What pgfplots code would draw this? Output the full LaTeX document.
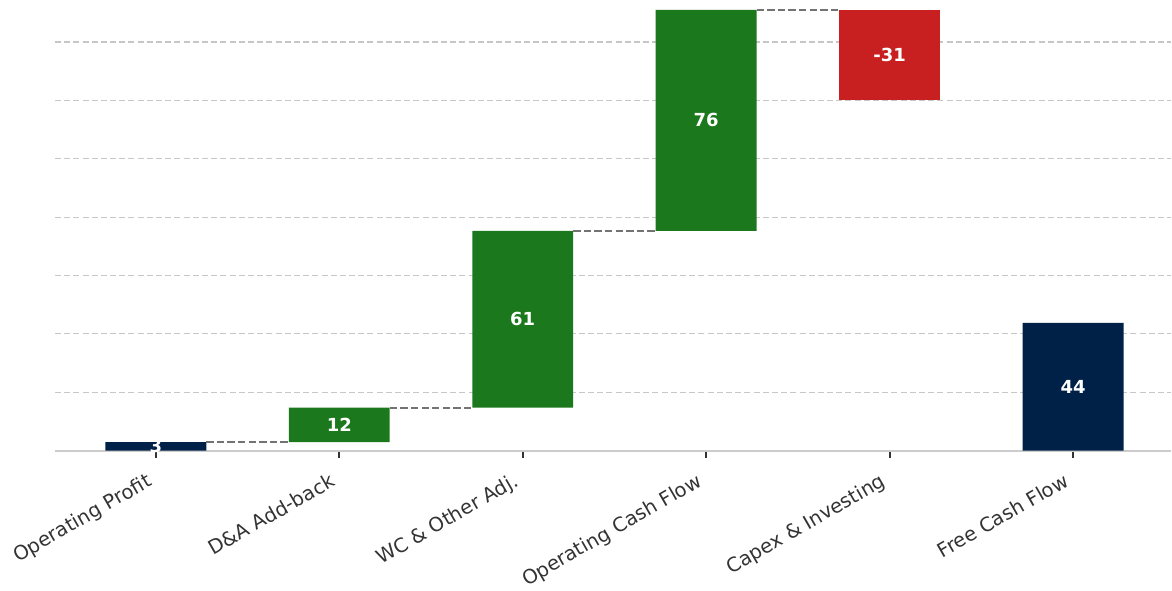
\documentclass[border=0pt]{standalone}
\usepackage{pgfplots}
\pgfplotsset{compat=1.18}
\usepackage{fontspec}
\setmainfont{DejaVu Sans}
\definecolor{navy}{RGB}{0,33,71}
\definecolor{grn}{RGB}{28,120,28}
\definecolor{rd}{RGB}{200,32,32}
\definecolor{txt}{RGB}{51,51,51}
\begin{document}
\begin{tikzpicture}
\begin{axis}[
  name=main,
  scale only axis,
  width=558.5pt, height=225.5pt,
  xmin=-0.55, xmax=5.534,
  ymin=0, ymax=154.4,
  ybar stacked,
  bar width=0.55,
  axis x line*=bottom,
  axis y line*=left,
  x axis line style={draw=black!20, line width=1pt},
  y axis line style={draw=none},
  xtick={0,1,2,3,4,5},
  xticklabels={Operating Profit, D\&A Add-back, WC \& Other Adj., Operating Cash Flow, Capex \& Investing, Free Cash Flow},
  xtick style={draw=black!80, line width=1pt},
  tick align=outside,
  major tick length=3.5pt,
  xticklabel style={rotate=30, anchor=north east, font=\fontsize{9.8}{11}\selectfont, text=txt, inner sep=0pt, xshift=-8pt, yshift=-3.5pt},
  ytick={20,40,60,80,100,120,140},
  yticklabels={},
  ytick style={draw=none},
  ymajorgrids,
  grid style={dash pattern=on 3pt off 1.6pt, draw=black!22, line width=0.6pt},
  clip=true,
]
% invisible base
\addplot[fill=none, draw=none] coordinates {(0,0) (1,2.9) (2,14.7) (3,75.3) (4,120.2) (5,0)};
% totals (navy)
\addplot[fill=navy, draw=none] coordinates {(0,2.9) (1,0) (2,0) (3,0) (4,0) (5,43.8)};
% increases (green)
\addplot[fill=grn, draw=none] coordinates {(0,0) (1,11.8) (2,60.6) (3,75.7) (4,0) (5,0)};
% decreases (red)
\addplot[fill=rd, draw=none] coordinates {(0,0) (1,0) (2,0) (3,0) (4,30.8) (5,0)};
\end{axis}
\begin{axis}[
  scale only axis,
  width=558.5pt, height=225.5pt,
  xmin=-0.55, xmax=5.534,
  ymin=0, ymax=154.4,
  hide axis,
  clip=true,
]
% connectors
\addplot[draw=black!55, dash pattern=on 3.7pt off 1.6pt, line width=0.9pt, unbounded coords=jump] coordinates {
  (0.275,2.9) (0.725,2.9)
  (1.275,nan)
  (1.275,14.7) (1.725,14.7)
  (2.275,nan)
  (2.275,75.3) (2.725,75.3)
  (3.275,nan)
  (3.275,151.0) (3.725,151.0)
};
% labels
\addplot[only marks, mark=none, nodes near coords, point meta=explicit symbolic,
  nodes near coords align={center},
  every node near coord/.append style={anchor=center, text=white, font=\bfseries\fontsize{9}{10}\selectfont}]
  table[meta=label] {
x y label
0 1.45 3
1 8.8 12
2 45.0 61
3 113.15 76
4 135.6 -31
5 21.9 44
};
\end{axis}
\path (main.south west) ++(-27.5pt,0pt);
\end{tikzpicture}
\end{document}
